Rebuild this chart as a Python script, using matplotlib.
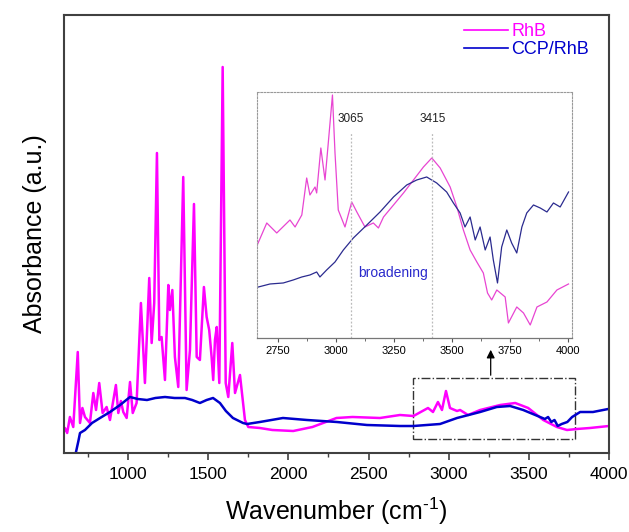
import numpy as np
import matplotlib
matplotlib.use('Agg')
import matplotlib.pyplot as plt
from matplotlib.patches import Rectangle
from matplotlib.ticker import MultipleLocator

plt.rcParams['font.family'] = ['Liberation Sans', 'DejaVu Sans']
plt.rcParams['axes.unicode_minus'] = False
plt.rcParams['mathtext.fontset'] = 'custom'
plt.rcParams['mathtext.rm'] = 'Liberation Sans'

# main spectrum, RhB (wavenumber, absorbance in arbitrary units)
rhb_wn = [600, 606, 620, 637, 658, 686, 700, 715, 731, 762, 783, 800, 820, 841, 866,
          887, 905, 924, 939, 955, 970, 991, 1012, 1029, 1053, 1080, 1105, 1132, 1147, 1163,
          1180, 1195, 1209, 1230, 1251, 1261, 1276, 1292, 1313, 1344, 1365, 1386, 1411, 1428, 1448,
          1473, 1490, 1506, 1521, 1531, 1542, 1553, 1569, 1590, 1609, 1625, 1650, 1667, 1698, 1729,
          1750, 1822, 1900, 2030, 2150, 2250, 2300, 2400, 2571, 2696, 2780, 2871, 2902, 2933, 2958,
          2983, 3008, 3052, 3071, 3121, 3196, 3321, 3415, 3496, 3590, 3675, 3738, 3800, 3881, 4000]
rhb_abs = [22, 25, 20, 36, 26, 101, 30, 45, 36, 30, 60, 43, 70, 40, 46,
           33, 50, 68, 40, 52, 41, 35, 71, 40, 50, 150, 70, 175, 110, 150,
           300, 113, 116, 73, 168, 143, 163, 96, 66, 276, 63, 103, 249, 96, 93,
           166, 136, 123, 96, 73, 113, 126, 70, 386, 70, 56, 110, 60, 78, 33,
           26, 25, 23, 22, 26, 32, 35, 36, 35, 38, 37, 45, 41, 51, 43,
           62, 45, 42, 43, 38, 43, 48, 50, 45, 33, 26, 23, 24, 25, 27]

# main spectrum, CCP/RhB
ccp_wn = [675, 690, 700, 731, 775, 825, 887, 950, 1012, 1060, 1118, 1170, 1230, 1290, 1355,
          1400, 1448, 1490, 1530, 1573, 1610, 1654, 1717, 1742, 1822, 1966, 2116, 2303, 2490, 2696,
          2780, 2946, 3052, 3196, 3300, 3383, 3465, 3570, 3600, 3620, 3640, 3660, 3680, 3705, 3740,
          3770, 3820, 3900, 3995]
ccp_abs = [1, 12, 20, 23, 30, 35, 41, 48, 56, 54, 53, 55, 56, 55, 55,
           53, 50, 53, 55, 50, 42, 35, 30, 29, 31, 35, 33, 31, 28, 27,
           27, 29, 35, 41, 46, 47, 43, 36, 34, 36, 31, 33, 27, 29, 31,
           36, 41, 41, 44]

# inset (zoom of 2660-4000 cm-1)
ins_rhb_wn = [2661, 2702, 2745, 2802, 2824, 2853, 2874, 2888, 2910, 2917, 2935, 2953, 2967, 2985, 2996,
              3010, 3039, 3068, 3090, 3125, 3161, 3183, 3205, 3248, 3291, 3334, 3377, 3413, 3449, 3492,
              3521, 3549, 3578, 3607, 3635, 3653, 3671, 3693, 3729, 3743, 3779, 3808, 3837, 3866, 3909,
              3952, 4002]
ins_rhb_abs = [93, 115, 105, 118, 111, 123, 160, 143, 151, 145, 190, 158, 195, 243, 185,
               128, 111, 136, 126, 111, 115, 110, 121, 133, 145, 158, 171, 180, 170, 151,
               131, 108, 88, 76, 65, 45, 38, 48, 41, 15, 31, 25, 13, 31, 36,
               48, 54]
ins_ccp_wn = [2666, 2716, 2773, 2816, 2853, 2888, 2917, 2931, 2960, 2996, 3032, 3075, 3133, 3190, 3248,
              3305, 3348, 3391, 3434, 3477, 3506, 3535, 3556, 3578, 3600, 3621, 3643, 3664, 3678, 3696,
              3714, 3736, 3757, 3779, 3801, 3822, 3851, 3880, 3909, 3937, 3966, 4002]
ins_ccp_abs = [51, 54, 55, 58, 61, 63, 66, 61, 68, 76, 88, 100, 113, 126, 141,
               153, 158, 161, 155, 146, 135, 125, 111, 121, 98, 111, 88, 101, 78, 55,
               91, 108, 95, 85, 111, 125, 133, 130, 126, 135, 131, 146]

marked_peaks = [3065, 3415]

fig = plt.figure(figsize=(6.29, 5.32), dpi=100)
ax = fig.add_axes([0.1017, 0.1485, 0.8665, 0.8233])

ax.plot(rhb_wn, rhb_abs, color='#ff00ff', lw=1.8, label='RhB')
ax.plot(ccp_wn, ccp_abs, color='#0000cc', lw=1.8, label='CCP/RhB')

ax.set_xlim(600, 4000)
ax.set_ylim(0, 438)
ax.xaxis.set_major_locator(MultipleLocator(500))
ax.xaxis.set_minor_locator(MultipleLocator(250))
ax.tick_params(axis='x', which='major', direction='out', length=5, width=1.2,
               labelsize=12.5, color='#404040', pad=5)
ax.tick_params(axis='x', which='minor', direction='out', length=3, width=1.0, color='#404040')
ax.set_yticks([])
for s in ax.spines.values():
    s.set_color('#404040')
    s.set_linewidth(1.5)

ax.set_xlabel('Wavenumber (cm$^{\\text{-1}}$)', fontsize=18, labelpad=10)
ax.set_ylabel('Absorbance (a.u.)', fontsize=18, labelpad=12)

leg = ax.legend(loc='upper right', bbox_to_anchor=(0.993, 1.018), frameon=False,
                labelcolor='linecolor', fontsize=13, handlelength=2.4,
                handletextpad=0.2, labelspacing=0.05)
for line in leg.get_lines():
    line.set_linewidth(1.2)

# dash-dot box around the zoomed region and arrow to the inset
ax.add_patch(Rectangle((2780, 14), 1010, 61, fill=False, ls='-.', lw=1.0, ec='#333333'))
ax.annotate('', xy=(3262, 106), xytext=(3262, 75),
            arrowprops=dict(arrowstyle='-|>', color='black', lw=0.9, mutation_scale=12))

# inset
ins = fig.add_axes([0.4086, 0.3647, 0.5008, 0.4624])
ins.plot(ins_rhb_wn, ins_rhb_abs, color='#e845d2', lw=0.9)
ins.plot(ins_ccp_wn, ins_ccp_abs, color='#2b2b8f', lw=0.9)
ins.set_xlim(2660, 4017)
ins.set_ylim(0, 246)
ins.xaxis.set_major_locator(MultipleLocator(250))
ins.xaxis.set_minor_locator(MultipleLocator(125))
ins.tick_params(axis='x', which='major', direction='out', length=3, width=0.8,
                labelsize=8, color='#555555', pad=3)
ins.tick_params(axis='x', which='minor', direction='out', length=2, width=0.6, color='#555555')
ins.set_yticks([])
for side in ['top', 'left', 'right']:
    ins.spines[side].set_linestyle((0, (1.5, 1.5)))
    ins.spines[side].set_color('#999999')
    ins.spines[side].set_linewidth(0.8)
ins.spines['bottom'].set_color('#777777')
ins.spines['bottom'].set_linewidth(0.9)

for p in marked_peaks:
    ins.plot([p, p], [0, 205], color='#bbbbbb', lw=0.9, ls=(0, (1.5, 1.5)))
    ins.text(p, 213, str(p), ha='center', va='bottom', fontsize=8.5, color='#222222')
ins.text(3095, 65, 'broadening', ha='left', va='center', fontsize=10, color='#2a2acc')

fig.savefig('out.png', dpi=100)
